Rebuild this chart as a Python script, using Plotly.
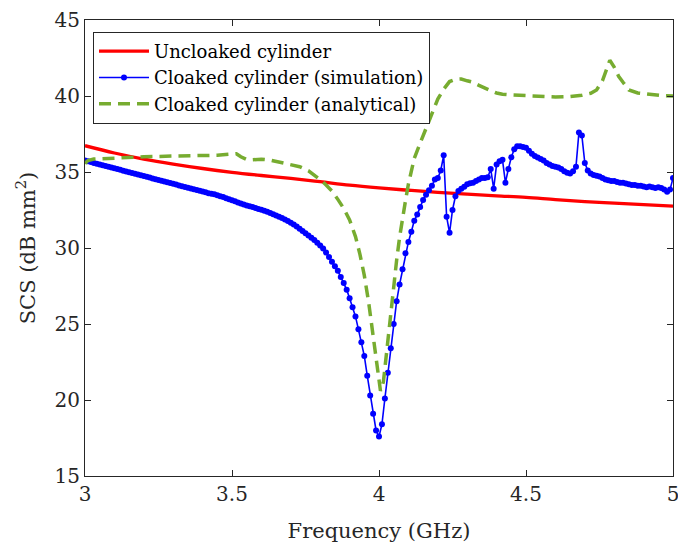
import plotly.graph_objects as go

# ---------------- data ----------------
freq_sim = [round(3 + 0.01 * i, 2) for i in range(201)]
scs_sim = [
    35.75, 35.70, 35.65, 35.60, 35.55, 35.50, 35.45, 35.40, 35.35, 35.30,
    35.24, 35.19, 35.14, 35.09, 35.04, 34.99, 34.94, 34.89, 34.84, 34.79,
    34.73, 34.68, 34.63, 34.58, 34.53, 34.48, 34.43, 34.38, 34.33, 34.28,
    34.22, 34.17, 34.12, 34.07, 34.02, 33.96, 33.91, 33.86, 33.81, 33.76,
    33.71, 33.66, 33.61, 33.57, 33.53, 33.47, 33.41, 33.35, 33.28, 33.21,
    33.14, 33.07, 33.00, 32.93, 32.86, 32.80, 32.74, 32.69, 32.63, 32.57,
    32.51, 32.45, 32.38, 32.30, 32.22, 32.14, 32.06, 31.97, 31.87, 31.77,
    31.66, 31.54, 31.41, 31.27, 31.12, 30.97, 30.82, 30.67, 30.52, 30.35,
    30.17, 29.97, 29.70, 29.40, 29.10, 28.80, 28.50, 28.10, 27.70, 27.26,
    26.70, 26.10, 25.50, 24.65, 23.80, 22.90, 21.60, 20.30, 19.10, 18.00,
    17.60, 18.40, 20.10, 21.80, 23.40, 25.00, 26.50, 27.60, 28.60, 29.65,
    30.40, 31.07, 31.80, 32.20, 32.70, 33.16, 33.50, 33.80, 34.10, 34.50,
    34.60, 35.10, 36.10, 32.06, 31.00, 32.50, 33.40, 33.75, 33.90, 34.03,
    34.20, 34.26, 34.30, 34.40, 34.50, 34.60, 34.60, 34.65, 35.20, 33.90,
    35.50, 35.70, 35.80, 34.30, 35.20, 35.97, 36.50, 36.70, 36.70, 36.65,
    36.60, 36.40, 36.20, 36.05, 35.95, 35.85, 35.75, 35.60, 35.50, 35.40,
    35.35, 35.30, 35.20, 35.05, 34.95, 34.90, 35.05, 35.35, 37.60, 37.40,
    35.60, 35.10, 34.90, 34.80, 34.75, 34.70, 34.60, 34.50, 34.45, 34.40,
    34.40, 34.35, 34.30, 34.30, 34.25, 34.20, 34.15, 34.15, 34.10, 34.10,
    34.05, 34.00, 34.05, 34.00, 33.95, 34.00, 33.95, 33.85, 33.70, 33.85,
    34.60,
]

freq_unc = [3.0, 3.1, 3.2, 3.3, 3.4, 3.5, 3.6, 3.7, 3.8, 3.9, 4.0,
            4.1, 4.2, 4.3, 4.4, 4.5, 4.6, 4.7, 4.8, 4.9, 5.0]
scs_unc = [36.73, 36.25, 35.85, 35.52, 35.23, 34.98, 34.77, 34.58, 34.36, 34.13, 33.95,
           33.80, 33.66, 33.54, 33.43, 33.33, 33.18, 33.05, 32.95, 32.85, 32.75]

freq_ana = [3.00, 3.01, 3.03, 3.10, 3.20, 3.30, 3.40, 3.45, 3.50, 3.515, 3.53, 3.55,
            3.57, 3.60, 3.63, 3.66, 3.70, 3.73, 3.76, 3.78, 3.80, 3.82, 3.84, 3.86,
            3.88, 3.90, 3.92, 3.935, 3.95, 3.965, 3.98, 3.99, 4.00, 4.005, 4.015,
            4.025, 4.04, 4.05, 4.06, 4.07, 4.08, 4.09, 4.10, 4.12, 4.14, 4.16, 4.18,
            4.20, 4.22, 4.24, 4.26, 4.28, 4.30, 4.32, 4.34, 4.36, 4.38, 4.40, 4.42,
            4.45, 4.50, 4.55, 4.60, 4.65, 4.69, 4.72, 4.74, 4.76, 4.77, 4.785, 4.80,
            4.815, 4.83, 4.85, 4.88, 4.92, 4.96, 5.00]
scs_ana = [35.55, 35.75, 35.85, 35.92, 36.00, 36.05, 36.07, 36.10, 36.18, 36.20, 36.00, 35.82,
           35.80, 35.84, 35.78, 35.66, 35.50, 35.35, 35.08, 34.80, 34.50, 34.15, 33.75, 33.20,
           32.60, 31.85, 30.75, 29.60, 28.20, 26.40, 24.30, 22.70, 21.20, 20.60, 21.20,
           23.10, 25.80, 27.40, 29.20, 30.70, 32.00, 33.10, 34.20, 35.90, 36.90, 37.90, 38.90,
           39.80, 40.45, 40.95, 41.10, 41.12, 41.00, 40.90, 40.70, 40.50, 40.35, 40.20, 40.12,
           40.07, 40.02, 39.96, 39.94, 39.97, 40.05, 40.18, 40.40, 41.00, 41.50, 42.35, 41.90,
           41.30, 40.90, 40.40, 40.20, 40.10, 40.03, 40.00]

x_ticks = [3, 3.5, 4, 4.5, 5]
x_tick_text = ["3", "3.5", "4", "4.5", "5"]
y_ticks = [15, 20, 25, 30, 35, 40, 45]

FONT = "DejaVu Serif"
AX = "#262626"

fig = go.Figure()
fig.add_trace(go.Scatter(
    x=freq_unc, y=scs_unc, mode="lines", name="Uncloaked cylinder",
    line=dict(color="#FF0000", width=3.3, shape="spline"),
))
fig.add_trace(go.Scatter(
    x=freq_sim, y=scs_sim, mode="lines+markers", name="Cloaked cylinder (simulation)",
    line=dict(color="#0000FF", width=1.6),
    marker=dict(color="#0000FF", size=6),
))
fig.add_trace(go.Scatter(
    x=freq_ana, y=scs_ana, mode="lines", name="Cloaked cylinder (analytical)",
    line=dict(color="#77AC30", width=3.5, dash="12px,7px"),
))

axis_common = dict(
    showline=True, linecolor=AX, linewidth=1, mirror="all",
    ticks="inside", ticklen=6, tickcolor=AX, tickwidth=1,
    showgrid=False, zeroline=False, automargin=False,
    ticklabeloverflow="allow",
    tickfont=dict(family=FONT, size=20, color=AX),
)

fig.update_layout(
    width=678, height=548,
    margin=dict(l=85, r=5, t=20, b=72, autoexpand=False),
    paper_bgcolor="white", plot_bgcolor="white",
    font=dict(family=FONT, color=AX),
    showlegend=True,
    legend=dict(
        x=0.0136, y=0.974, xanchor="left", yanchor="top",
        bgcolor="white", bordercolor=AX, borderwidth=1,
        font=dict(family=FONT, size=18, color="#000000"),
        tracegroupgap=0, itemwidth=50,
    ),
    xaxis=dict(
        range=[3, 5], tickvals=x_ticks, ticktext=x_tick_text,
        title=dict(text="Frequency (GHz)", font=dict(family=FONT, size=21, color=AX), standoff=18),
        **axis_common,
    ),
    yaxis=dict(
        range=[15, 45], tickvals=y_ticks,
        title=dict(text="SCS (dB mm<sup>2</sup>)", font=dict(family=FONT, size=21, color=AX), standoff=13),
        **axis_common,
    ),
)

fig.write_html("out.html")
